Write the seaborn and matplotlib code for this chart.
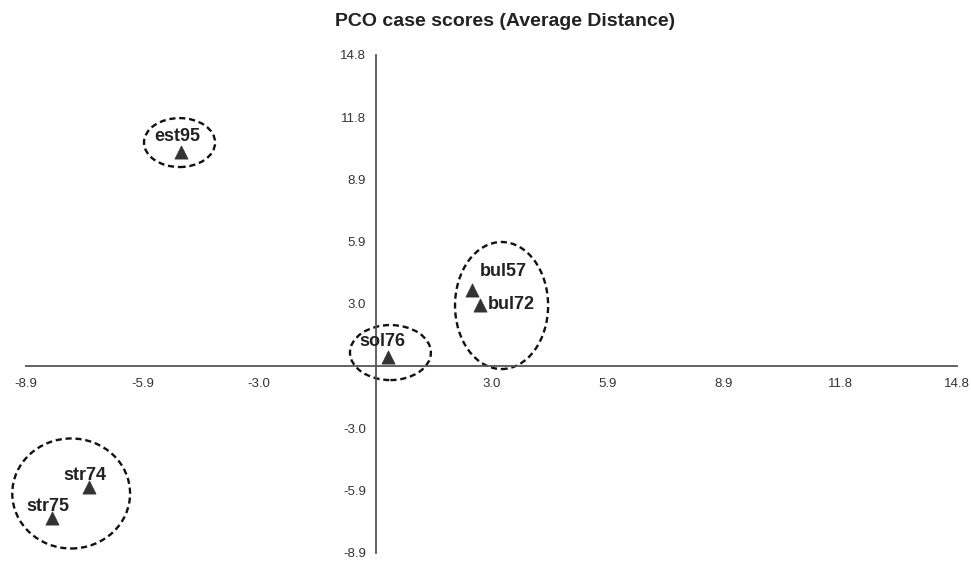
import numpy as np
import pandas as pd
import seaborn as sns
import matplotlib.pyplot as plt
from matplotlib.patches import Ellipse

# case scores
cases = ['est95', 'bul57', 'bul72', 'sol76', 'str74', 'str75']
pco1 = [-4.95, 2.46, 2.66, 0.32, -7.30, -8.24]
pco2 = [10.19, 3.61, 2.90, 0.42, -5.77, -7.25]

# label offsets (points) from each triangle
lab_dx = [-2.5, 22.7, 22.3, -4.3, -3.2, -3.2]
lab_dy = [11.0, 13.0, 0.0, 10.8, 8.6, 8.6]

# dashed group outlines (data units)
grp_x = [-4.99, 3.21, 0.38, -7.75]
grp_y = [10.63, 2.87, 0.63, -6.08]
grp_w = [1.81, 2.37, 2.06, 3.00]
grp_h = [2.33, 6.05, 2.62, 5.24]

tick_vals = [-8.9, -5.9375, -2.975, 2.95, 5.9125, 8.875, 11.8375, 14.8]
tick_labs = ['-8.9', '-5.9', '-3.0', '3.0', '5.9', '8.9', '11.8', '14.8']

df = pd.DataFrame({'case': cases, 'x': pco1, 'y': pco2})

sns.set_style("white")
plt.rcParams['font.family'] = ['Liberation Sans', 'DejaVu Sans']

fig = plt.figure(figsize=(9.71, 5.61), dpi=100)
ax = fig.add_axes([0.02678, 0.0148, 0.9585, 0.88717])

sns.scatterplot(data=df, x='x', y='y', marker='^', s=90, color='#333333',
                edgecolor='#333333', linewidth=0.5, ax=ax, zorder=3)

for c, x, y, dx, dy in zip(cases, pco1, pco2, lab_dx, lab_dy):
    ax.annotate(c, (x, y), xytext=(dx, dy), textcoords='offset points',
                ha='center', va='center', fontsize=13, fontweight='bold',
                color='#222222', zorder=4)

for cx, cy, w, h in zip(grp_x, grp_y, grp_w, grp_h):
    ax.add_patch(Ellipse((cx, cy), w, h, fill=False, edgecolor='#111111',
                         lw=1.7, linestyle=(0, (2.6, 1.6)), zorder=2,
                         clip_on=False))

ax.set_xlim(-8.9, 14.8)
ax.set_ylim(-8.9, 14.8)
ax.spines['left'].set_position(('data', 0))
ax.spines['bottom'].set_position(('data', 0))
ax.spines['top'].set_visible(False)
ax.spines['right'].set_visible(False)
for s in ['left', 'bottom']:
    ax.spines[s].set_color('#555555')
    ax.spines[s].set_linewidth(1.3)

ax.set_xticks(tick_vals)
ax.set_xticklabels(tick_labs)
ax.set_yticks(tick_vals)
ax.set_yticklabels(tick_labs)
ax.tick_params(direction='inout', length=10, width=1.3, color='#555555',
               labelcolor='#333333', labelsize=9.5)
ax.tick_params(axis='x', pad=3.5)
ax.tick_params(axis='y', pad=2)
ax.set_xlabel('')
ax.set_ylabel('')
ax.patch.set_alpha(0)

fig.text(0.520, 0.961, 'PCO case scores (Average Distance)', ha='center',
         va='center', fontsize=14, fontweight='bold', color='#222222')

fig.savefig('out.png', dpi=100)
